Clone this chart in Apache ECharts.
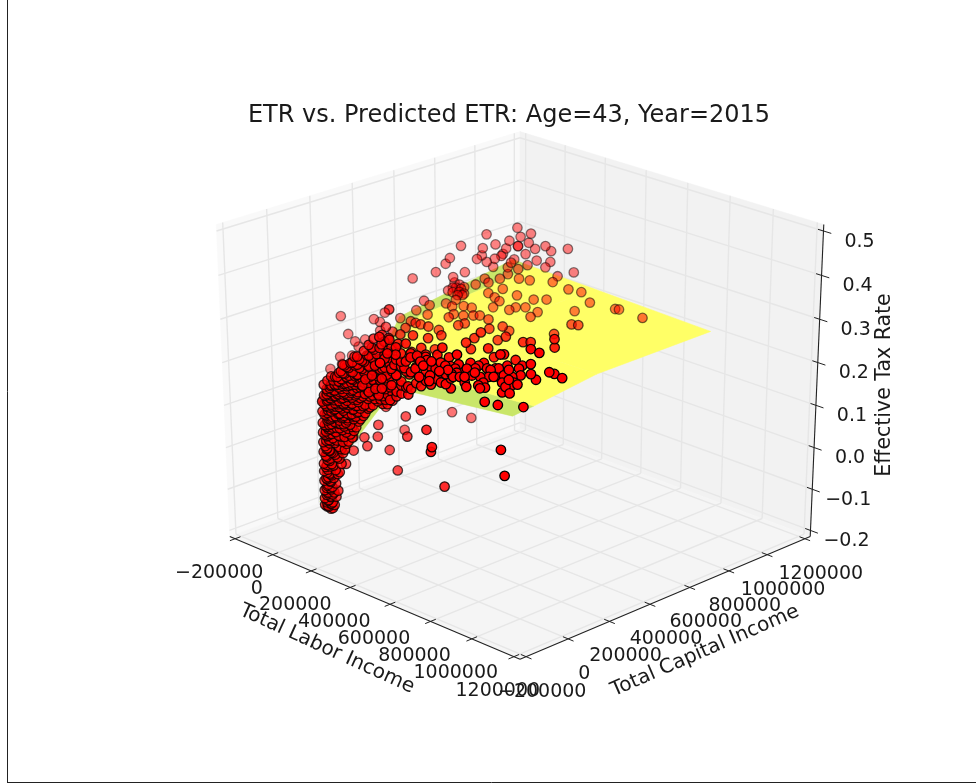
<!DOCTYPE html>
<html><head><meta charset="utf-8">
<style>html,body{margin:0;padding:0;background:#fff}#c{width:976px;height:784px}</style>
<script src="https://cdn.jsdelivr.net/npm/echarts@6/dist/echarts.min.js"></script>
</head><body><div id="c"></div>
<script>
// Tick values
const laborTicks = [-200,0,200,400,600,800,1000,1200];      // $ thousand
const capitalTicks = [-200,0,200,400,600,800,1000,1200];    // $ thousand
const etrTicks = [-0.2,-0.1,0,0.1,0.2,0.3,0.4,0.5];
const etrTickLabels = ['\u22120.2','\u22120.1','0.0','0.1','0.2','0.3','0.4','0.5'];
const laborTickLabels = ['\u2212200000','0','200000','400000','600000','800000','1000000','1200000'];
const capitalTickLabels = ['\u2212200000','0','200000','400000','600000','800000','1000000','1200000'];

// Low income cluster: one labor / capital pair with several ETR readings
const lowLabor =   [16,27,39,50,62,74,85,97,109,123,137,152,167,181,196,210,225,22,33,44,56,68,80,91,103,115,129,143,158,173,190,204,219,25,35,30,42,54,66,78,90,105,120];
const lowCapital = [10,18,26,34,42,49,57,65,72,82,92,102,111,121,130,140,150,14,22,30,38,46,53,61,69,77,86,96,105,115,126,136,146,16,23,20,28,36,44,52,60,70,80];
const lowEtr = [
 [-.136,-.12,-.101,-.078,-.055,-.037,-.009,.014,.037,.06,.087,.11],
 [-.14,-.124,-.106,-.087,-.069,-.051,-.028,0,.028,.051,.078,.101,.124],
 [-.143,-.129,-.11,-.092,-.064,-.037,-.009,.018,.046,.069,.097,.12,.143],
 [-.115,-.083,-.051,-.014,.014,.041,.064,.092,.115,.138,.161],
 [-.055,-.023,.005,.032,.06,.083,.106,.129,.152,.17],
 [-.009,.018,.046,.074,.097,.12,.143,.166,.184],
 [.014,.041,.064,.087,.11,.133,.156,.179,.198],
 [.037,.06,.083,.106,.129,.152,.175,.193],
 [.046,.074,.097,.12,.143,.166,.184,.207],
 [.069,.092,.115,.138,.161,.179,.202,.221],
 [.083,.106,.129,.152,.17,.193,.212],
 [.101,.124,.143,.161,.179,.202,.225],
 [.11,.133,.152,.17,.193,.221,.244],
 [.12,.138,.156,.179,.207,.23],
 [.115,.133,.152,.175,.198,.221],
 [.115,.138,.161,.184,.212,.239],
 [.124,.143,.166,.193,.221,.248],
 [-.14,-.13,-.112,-.095,-.072,-.045,-.018,.005,.032,.055,.08,.105,.125,.15],
 [-.145,-.133,-.115,-.095,-.078,-.06,-.03,-.005,.02,.045,.07,.09,.115,.135,.16],
 [-.135,-.105,-.07,-.04,-.01,.025,.05,.075,.1,.125,.15,.17],
 [-.1,-.06,-.02,.02,.05,.075,.1,.125,.15,.17],
 [-.035,0,.03,.06,.085,.11,.135,.16,.18],
 [0,.03,.055,.08,.105,.13,.155,.18,.2],
 [.02,.05,.075,.1,.125,.15,.17,.195],
 [.03,.055,.085,.11,.135,.16,.185,.205],
 [.055,.08,.105,.13,.155,.175,.2,.22],
 [.075,.1,.125,.15,.17,.195,.215],
 [.09,.11,.135,.16,.185,.21,.235],
 [.105,.13,.15,.175,.2,.225,.25],
 [.125,.145,.165,.19,.215,.24,.265],
 [.125,.145,.17,.195,.22,.245,.27],
 [.125,.15,.175,.2,.23,.26],
 [.135,.155,.18,.21,.235,.265],
 [-.138,-.126,-.108,-.09,-.074,-.058,-.04,-.02,-.002,.018,.04],
 [-.132,-.117,-.098,-.08,-.062,-.043,-.024,-.006,.012,.034,.056],
 [.03,.052,.066,.084,.098,.112,.128,.14],
 [.035,.058,.072,.088,.104,.118,.134,.148],
 [.04,.062,.078,.094,.108,.124,.138,.152],
 [.05,.068,.084,.1,.114,.13,.146,.16],
 [.06,.076,.092,.108,.122,.136,.15,.165],
 [.07,.086,.1,.116,.13,.144,.158,.172],
 [.08,.096,.11,.124,.14,.154,.168],
 [.09,.106,.12,.134,.148,.162,.178]
];

// Dense run of incomes joining the cluster to the surface
const runLabor =   [279,296,313,330,347,364,381,398,414,432,449,466];
const runCapital = [120,127,134,141,149,156,163,170,178,185,192,199];
const runEtr = [
 [.16,.197,.234,.262],
 [.157,.176,.22,.25],
 [.173,.21,.233],
 [.171,.21,.253],
 [.186,.223,.246],
 [.181,.202,.24],
 [.195,.218,.25],
 [.188,.206,.229],
 [.203,.226],
 [.196,.219,.242],
 [.194,.217],
 [.186,.209,.237]
];

// Points lying close to the fitted surface, near side
const bandLabor = [348,376,436,487,503,459,555,572,366,290,299,418,307,252,293,301,122,43,139,261,220,224,441,501,416,416,408,445,388,397,475,583,532,521,531,666,563,519,583,605,628,634,626,728,685,590,713,809,800,777,584,670,681,640,731,794,785,745,827,846,723,823,874,947,564,665,545,535,659,661,402,425,498,708,800,814,489,561,512,600,560,619,569,648,608,668,680,636,695,738,774,725,674,693,700,649,564,580,638,766,735];
const bandCapital = [123,119,99,89,16,108,13,44,178,294,317,207,213,219,105,146,252,364,324,218,331,377,216,196,322,345,370,365,462,550,456,74,157,208,231,119,263,355,340,301,254,265,233,219,310,389,339,243,276,388,97,67,64,177,103,153,169,170,124,142,87,11,22,69,488,387,470,632,509,506,513,466,348,385,340,388,152,112,193,113,185,151,232,162,234,182,194,262,228,177,157,238,337,132,102,88,133,206,301,205,268];
const bandEtr = [.25,.23,.25,.27,.25,.23,.25,.27,.25,.23,.26,.27,.25,.23,.25,.27,.25,.25,.265,.27,.265,.25,.25,.27,.262,.243,.263,.283,.266,.248,.263,.27,.25,.23,.25,.27,.25,.24,.26,.27,.25,.23,.25,.27,.25,.24,.26,.27,.25,.24,.25,.27,.25,.23,.25,.27,.25,.23,.25,.27,.25,.25,.25,.25,.26,.278,.26,.25,.26,.28,.265,.245,.258,.277,.256,.237,.25,.25,.25,.25,.25,.25,.25,.25,.25,.25,.25,.25,.25,.25,.25,.25,.25,.25,.25,.25,.25,.25,.25,.25,.25];

// Points lying close to the surface, far side
const upperLabor = [85,90,142,47,121,50,71,88,72,19,114,126,155,184,213,206,284,290,213,264,280,240,87,76,108,114,181,169,210,244,254,320,352,346,322,321,266,326,414,404,486,556,578,345,265,244,105,106,104,162,198,392,472,568,581,683,410,416,413,364,241,164,182,286,160,189,180,145,106,201,273,313,51,41,43,73,102,109];
const upperCapital = [402,462,402,476,512,591,593,609,649,653,599,555,509,537,436,467,413,439,548,506,522,481,691,747,734,785,733,673,664,654,731,748,780,681,657,626,601,519,638,683,784,697,708,897,899,945,933,833,887,833,851,914,875,903,909,921,110,135,188,139,166,275,330,266,327,226,179,181,236,125,85,13,629,656,621,632,587,612];
const upperEtr = [.269,.272,.268,.273,.273,.279,.278,.279,.281,.283,.277,.275,.272,.273,.268,.269,.265,.266,.272,.269,.269,.269,.283,.286,.284,.286,.281,.279,.277,.275,.278,.276,.276,.273,.273,.272,.273,.268,.269,.271,.27,.265,.265,.28,.284,.287,.293,.288,.291,.286,.285,.278,.273,.269,.269,.264,.253,.253,.256,.254,.256,.262,.264,.26,.264,.259,.257,.258,.261,.255,.253,.25,.28,.281,.28,.28,.277,.278];

// Points above the surface, far side (pale)
const paleLabor = [71,88,95,98,106,109,100,125,122,132,118,122,125,131,130,137,140,142,148,150,158,157,149,149,154,161,169,174,186,173,169,163,191,143,141,146,136,19,24,42,46,50,53,53,28,36,17,26,10,19,9,4,46,31];
const paleCapital = [400,496,537,555,602,617,568,709,693,746,668,688,709,743,736,778,791,805,839,853,897,887,841,841,874,915,959,983,1056,980,959,921,1082,812,798,825,771,105,133,239,264,284,302,302,161,201,99,147,58,105,51,23,264,174];
const paleEtr = [.341,.343,.357,.368,.39,.327,.322,.403,.373,.375,.351,.357,.339,.342,.324,.349,.36,.376,.402,.379,.381,.361,.359,.359,.336,.343,.344,.329,.325,.304,.294,.315,.266,.324,.315,.33,.345,.293,.248,.268,.258,.277,.282,.282,.227,.226,.2,.196,.177,.182,.133,.108,.238,.213];

// Points between the low income cluster and the surface
const neckLabor = [262,279,307,324,296,319,319,279,256,100,228,195,172,206,217,262,183,160,228,273,296,239,206];
const neckCapital = [112,119,132,139,127,137,137,119,110,234,98,83,73,88,93,112,78,69,98,117,127,103,88];
const neckEtr = [.211,.198,.217,.204,.185,.176,.157,.149,.138,.073,.185,.189,.178,.159,.145,.173,.149,.162,.162,.221,.231,.232,.213];

// Points under the surface
const lowerLabor = [253,205,166,307,98,111,320,96,221,125,384,382,704,170,363,763,80,73,56,56,45];
const lowerCapital = [503,455,267,207,198,312,220,196,221,225,184,181,204,220,263,163,160,153,116,116,88];
const lowerEtr = [.026,.04,.056,.106,.036,.006,.06,.008,.026,-.024,.037,.026,.085,-.064,-.075,.043,-.011,.01,.014,-.018,-.047];

// Fitted surface
const surfLabor = [0,100,400,965];
const surfCapital = [0,100,400,965];
const surfEtr = [
 [-.13,-.02,.24,.285],
 [-.02,.08,.258,.283],
 [.21,.225,.263,.28],
 [.245,.25,.27,.272]
];

const title = 'ETR vs. Predicted ETR: Age=43, Year=2015';
const FONT = '"DejaVu Sans"';

// Camera of the 3D view
const EL = 26*Math.PI/180, SE = Math.sin(EL), CE = Math.cos(EL), R2 = Math.SQRT1_2;
const KX = 403, KY = 333, CX = 520, CY = 384;
function project(L,C,E){
  const a=(L+200)/1400-.5, b=(C+200)/1400-.5, c=(E+.2)/.7-.5;
  const rx=R2*(a+b), d=CE*R2*(a-b)+SE*c, up=SE*R2*(b-a)+CE*c, f=1/(1-d/10);
  return [CX+KX*rx*f, CY-KY*up*f, d];
}
const PL=1400/48, PZ=.7/48;
const L0=-200-PL, L1=1200+PL, C0=-200-PL, C1=1200+PL, Z0=-.2-PZ, Z1=.5+PZ;

// Panes
const polys=[];
function poly(corners,color){ polys.push({pts:corners.map(p=>project(p[0],p[1],p[2])),color}); }
poly([[L0,C0,Z0],[L0,C1,Z0],[L0,C1,Z1],[L0,C0,Z1]],'#f9f9f9');
poly([[L0,C1,Z0],[L1,C1,Z0],[L1,C1,Z1],[L0,C1,Z1]],'#f2f2f2');
poly([[L0,C0,Z0],[L1,C0,Z0],[L1,C1,Z0],[L0,C1,Z0]],'#f5f5f5');

// Grid and axes
const segs=[];
function seg(a,b,color,width){ segs.push({a:project(a[0],a[1],a[2]),b:project(b[0],b[1],b[2]),color,width}); }
const GRID='#e6e6e6', AX='#222';
laborTicks.forEach(v=>{ seg([v,C0,Z0],[v,C1,Z0],GRID,1.4); seg([v,C1,Z0],[v,C1,Z1],GRID,1.4); });
capitalTicks.forEach(v=>{ seg([L1,v,Z0],[L0,v,Z0],GRID,1.4); seg([L0,v,Z0],[L0,v,Z1],GRID,1.4); });
etrTicks.forEach(v=>{ seg([L0,C0,v],[L0,C1,v],GRID,1.4); seg([L0,C1,v],[L1,C1,v],GRID,1.4); });
const axisSegs=[];
function aseg(a,b,w){ axisSegs.push({a:project(a[0],a[1],a[2]),b:project(b[0],b[1],b[2]),color:AX,width:w}); }
aseg([L0,C0,Z0],[L1,C0,Z0],1.1);
aseg([L1,C0,Z0],[L1,C1,Z0],1.1);
aseg([L1,C1,Z0],[L1,C1,Z1],1.1);
laborTicks.forEach(v=>aseg([v,C0-25,Z0],[v,C0+25,Z0],1));
capitalTicks.forEach(v=>aseg([L1-25,v,Z0],[L1+25,v,Z0],1));
etrTicks.forEach(v=>aseg([L1-25,C1,v],[L1+35,C1,v],1));

// Surface cells, far ones first
const cells=[];
for(let i=0;i<surfLabor.length-1;i++) for(let j=0;j<surfCapital.length-1;j++){
  const q=[[i,j],[i+1,j],[i+1,j+1],[i,j+1]].map(([a,b])=>project(surfLabor[a],surfCapital[b],surfEtr[a][b]));
  const green = i===0||j===0;
  cells.push({pts:q,color:green?'#c9e669':'#ffff66',d:q.reduce((s,p)=>s+p[2],0)/4,green});
}
cells.sort((a,b)=>(a.green===b.green)?a.d-b.d:(a.green?-1:1));

// Marks: [labor, capital, etr, pale?]
const all=[];
lowLabor.forEach((l,i)=>lowEtr[i].forEach(e=>all.push([l,lowCapital[i],e,false])));
runLabor.forEach((l,i)=>runEtr[i].forEach(e=>all.push([l,runCapital[i],e,false])));
[[bandLabor,bandCapital,bandEtr,false],[upperLabor,upperCapital,upperEtr,false],[paleLabor,paleCapital,paleEtr,true],[neckLabor,neckCapital,neckEtr,false],[lowerLabor,lowerCapital,lowerEtr,false]]
 .forEach(g=>g[0].forEach((l,i)=>all.push([l,g[1][i],g[2][i],g[3]])));
const marks=all.map(p=>{const q=project(p[0],p[1],p[2]);
  const op=p[3]?.48:Math.max(.5,Math.min(1,.74+(p[0]-p[1])/1200));
  return {x:q[0],y:q[1],d:q[2],op};}).sort((a,b)=>a.d-b.d);
const scatterData=marks.map(m=>({value:[m.x,m.y],itemStyle:{opacity:m.op}}));

// Text
const texts=[];
function txt(x,y,text,rot,size){ texts.push({x,y,text,rot:rot||0,size:size||19}); }
laborTicks.forEach((v,i)=>{const p=project(v,C0,Z0);txt(p[0]-16,p[1]+34.5,laborTickLabels[i]);});
capitalTicks.forEach((v,i)=>{const p=project(L1,v,Z0);txt(p[0]+16,p[1]+35,capitalTickLabels[i]);});
etrTicks.forEach((v,i)=>{const p=project(L1,C1,v);txt(p[0]+36,p[1]+11,etrTickLabels[i]);});
txt(327,649,'Total Labor Income',-24.5*Math.PI/180,20);
txt(705,651,'Total Capital Income',23.5*Math.PI/180,20);
txt(885,385,'Effective Tax Rate',Math.PI/2,20.5);

const chart=echarts.init(document.getElementById('c'),null,{renderer:'canvas'});
function polySeries(list,z){return {type:'custom',silent:true,z,coordinateSystem:'cartesian2d',clip:false,data:list.map((_,i)=>[i,i]),encode:{x:0,y:1},
  renderItem:(p,api)=>{const o=list[api.value(0)];return {type:'polygon',shape:{points:o.pts.map(q=>api.coord([q[0],q[1]]))},style:{fill:o.color,stroke:o.color,lineWidth:.5}};}};}
function segSeries(list,z){return {type:'custom',silent:true,z,coordinateSystem:'cartesian2d',clip:false,data:list.map((_,i)=>[i,i]),encode:{x:0,y:1},
  renderItem:(p,api)=>{const o=list[api.value(0)];const a=api.coord([o.a[0],o.a[1]]),b=api.coord([o.b[0],o.b[1]]);return {type:'line',shape:{x1:a[0],y1:a[1],x2:b[0],y2:b[1]},style:{stroke:o.color,lineWidth:o.width}};}};}
chart.setOption({
  animation:false,backgroundColor:'#fff',
  title:{text:title,left:504,top:99,textAlign:'center',textStyle:{fontFamily:FONT,fontSize:24,fontWeight:'normal',color:'#1a1a1a'}},
  grid:{left:0,right:0,top:0,bottom:0,containLabel:false},
  xAxis:{type:'value',min:0,max:976,show:false},
  yAxis:{type:'value',min:0,max:784,inverse:true,show:false},
  graphic:[
    {type:'line',shape:{x1:7.5,y1:0,x2:7.5,y2:783},style:{stroke:'#222',lineWidth:1}},
    {type:'line',shape:{x1:7,y1:782.5,x2:976,y2:782.5},style:{stroke:'#222',lineWidth:1}}
  ],
  series:[
    polySeries(polys,1),
    segSeries(segs,2),
    polySeries(cells,3),
    {type:'scatter',z:4,symbol:'circle',symbolSize:9.5,silent:true,clip:false,data:scatterData,
     itemStyle:{color:'#ff0000',borderColor:'#000',borderWidth:1.3}},
    segSeries(axisSegs,5),
    {type:'custom',silent:true,z:6,coordinateSystem:'cartesian2d',clip:false,data:texts.map((_,i)=>[i,i]),encode:{x:0,y:1},
     renderItem:(p,api)=>{const o=texts[api.value(0)];const c=api.coord([o.x,o.y]);
       return {type:'text',x:c[0],y:c[1],rotation:o.rot,style:{text:o.text,fill:'#1a1a1a',font:o.size+'px '+FONT,textAlign:'center',textVerticalAlign:'middle'}};}}
  ]
});
</script></body></html>
